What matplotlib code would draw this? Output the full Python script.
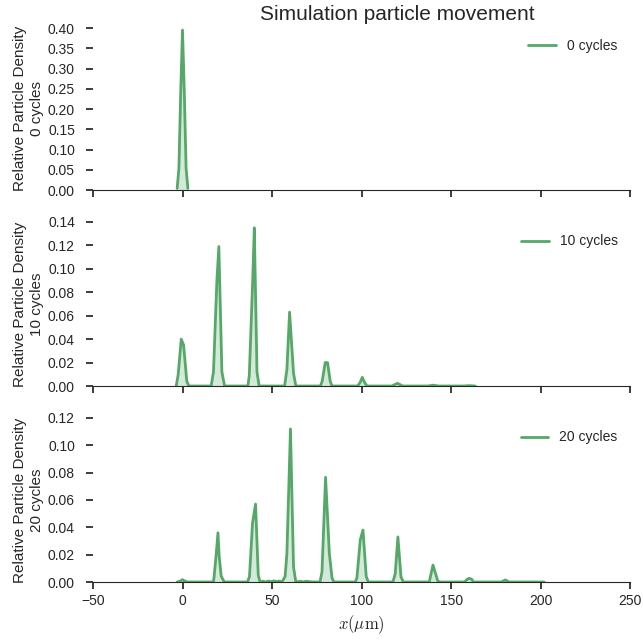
import numpy as np
import matplotlib.pyplot as plt
import seaborn as sns
from matplotlib.ticker import MultipleLocator

sns.set_style('ticks')
plt.rcParams['font.family'] = ['Liberation Sans', 'DejaVu Sans']
plt.rcParams['mathtext.fontset'] = 'cm'

# Relative particle density, per number of cycles
cycles = [0, 10, 20]

x_0 = [-3, -2, -1, 0, 1, 2, 3]
y_0 = [0.004, 0.054, 0.242, 0.395, 0.242, 0.054, 0.004]

x_10 = [-3.5, -2.4, -0.7, 0.6, 2.4, 3.6,
        16, 17.3, 19.2, 20.3, 22, 23.5,
        36.5, 37.3, 39.2, 40.1, 41.6, 42.8,
        57, 58.3, 59.8, 62, 63.3,
        77, 78, 79.7, 81, 82.5, 83.5,
        97.8, 99.2, 100.4, 101.7, 103,
        117, 120, 123,
        137, 140, 143,
        157, 160, 163.5]
y_10 = [0, 0.010, 0.040, 0.035, 0.004, 0,
        0, 0.012, 0.090, 0.119, 0.012, 0,
        0, 0.009, 0.090, 0.135, 0.012, 0,
        0, 0.014, 0.063, 0.011, 0,
        0, 0.004, 0.020, 0.020, 0.004, 0,
        0, 0.003, 0.0074, 0.003, 0,
        0, 0.0023, 0,
        0, 0.0007, 0,
        0, 0.0003, 0]

x_20 = [-3, -1.5, 0, 1.5, 3,
        17.3, 17.7, 18.7, 19.8, 20.5, 21.6, 23.3,
        36.3, 37.4, 39.1, 40.8, 42.3, 43.3,
        45, 46.5, 48, 49.5, 51, 52.5, 54, 55.5,
        57.3, 58.3, 60.3, 62, 63.3,
        66, 67.5, 69, 71, 73,
        76.8, 77.9, 79.9, 82, 83.5, 84.5,
        96.5, 97.4, 99.3, 100.8, 102.6, 103.8,
        117.5, 118.8, 120.3, 122, 123.3,
        137.8, 139.9, 142.5, 143.5,
        157.6, 159, 160.2, 161.5, 162.5,
        178, 180.3, 182.5, 202]
y_20 = [0, 0.0005, 0.0017, 0.0005, 0,
        0, 0.0046, 0.0185, 0.036, 0.0185, 0.0044, 0,
        0, 0.004, 0.043, 0.057, 0.005, 0,
        0.0006, 0, 0.0007, 0.0002, 0.0008, 0.0003, 0.0007, 0,
        0.004, 0.021, 0.112, 0.011, 0,
        0.0005, 0, 0.0006, 0.0002, 0,
        0, 0.0075, 0.0766, 0.021, 0.003, 0,
        0, 0.003, 0.031, 0.038, 0.004, 0,
        0, 0.006, 0.033, 0.004, 0,
        0, 0.0124, 0.001, 0,
        0, 0.002, 0.0027, 0.002, 0,
        0, 0.0015, 0, 0]

panels = [(x_0, y_0), (x_10, y_10), (x_20, y_20)]
y_tops = [0.405, 0.14, 0.12]
y_steps = [0.05, 0.02, 0.02]

green = '#55a868'
dark = '.15'

fig, axes = plt.subplots(3, 1, sharex=True, figsize=(6.43, 6.39), dpi=100)
fig.subplots_adjust(left=0.1446, right=0.98, top=0.9593, bottom=0.0892, hspace=0.195)

for ax, n, (xs, ys), top, step in zip(axes, cycles, panels, y_tops, y_steps):
    ax.plot(xs, ys, color=green, lw=2, label='%d cycles' % n)
    ax.fill_between(xs, 0, ys, color=green, alpha=0.25, lw=0)
    ax.set_xlim(-50, 250)
    ax.set_ylim(0, top)
    ax.yaxis.set_major_locator(MultipleLocator(step))
    ax.yaxis.set_major_formatter(plt.FormatStrFormatter('%.2f'))
    ax.set_ylabel('Relative Particle Density\n%d cycles' % n, fontsize=11, labelpad=3)
    ax.tick_params(labelsize=10, length=5, width=1.25, colors=dark, labelcolor=dark)
    ax.tick_params(axis='y', pad=8)
    ax.legend(loc='upper right', frameon=False, fontsize=10, handlelength=2.0)
    sns.despine(ax=ax, left=True)

axes[-1].set_xlabel(r'$x(\mu\mathrm{m})$', fontsize=12, color=dark)
fig.text(397.5 / 643, 1 - 15 / 639, 'Simulation particle movement', ha='center', va='center',
         fontsize=15, color=dark)

fig.savefig('out.png', dpi=100)
